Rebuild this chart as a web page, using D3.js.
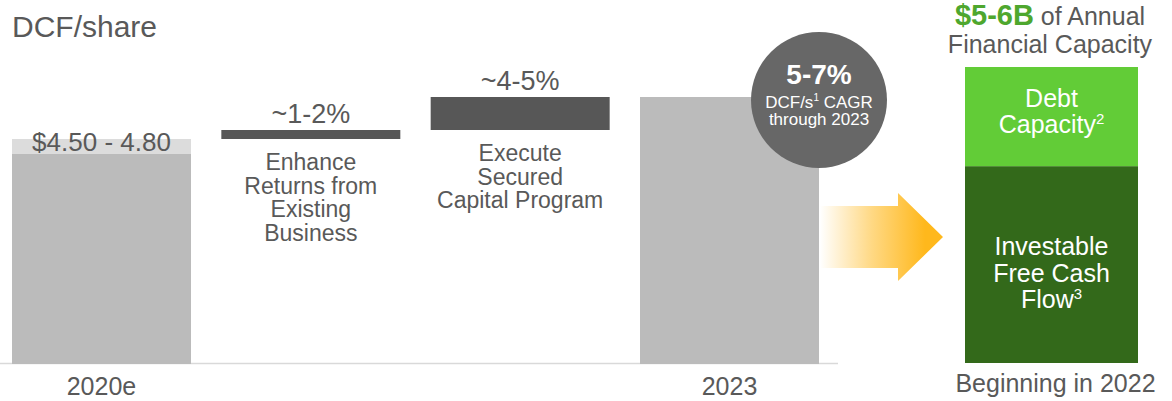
<!DOCTYPE html>
<html>
<head>
<meta charset="utf-8">
<script src="https://cdn.jsdelivr.net/npm/d3@7"></script>
<style>
  html, body { margin: 0; padding: 0; background: #ffffff; }
  svg { display: block; }
  text { font-family: "Liberation Sans", Arial, sans-serif; }
</style>
</head>
<body>
<div id="chart"></div>
<script>
// ---- Data ----------------------------------------------------------------
const categories   = ["2020e", "Enhance Returns", "Execute Capital", "2023"];
const startValues  = [0.3, 4.80, 4.98, 0.3];   // bar bottoms (0.3 = axis floor)
const endValues    = [4.50, 4.98, 5.64, 5.64];  // bar tops
const rangeHigh    = 4.80;                      // upper end of the 2020e estimate
const valueLabels  = ["$4.50 - 4.80", "~1-2%", "~4-5%", ""];
const stepLines    = [[], ["Enhance", "Returns from", "Existing", "Business"],
                      ["Execute", "Secured", "Capital Program"], []];
const axisLabels   = ["2020e", "", "", "2023"];

const capacityParts  = ["Investable Free Cash Flow", "Debt Capacity"];
const capacityShares = [0.665, 0.335];

// ---- Layout --------------------------------------------------------------
const W = 1172, H = 401;
const baseY = 363;
const grey = "#595959";

const svg = d3.select("#chart").append("svg")
  .attr("width", W).attr("height", H);

const x = d3.scaleBand().domain(categories).range([12, 819])
  .paddingInner(0.145).paddingOuter(0);
const y = d3.scaleLinear().domain([0.3, 6]).range([364, 79]);
const bw = x.bandwidth();

// Title
svg.append("text").attr("x", 12).attr("y", 37)
  .attr("font-size", 30).attr("fill", grey).text("DCF/share");

// Baseline
svg.append("line").attr("x1", 0).attr("x2", 838)
  .attr("y1", baseY + 0.5).attr("y2", baseY + 0.5)
  .attr("stroke", "#d9d9d9").attr("stroke-width", 1.5);

// Range band on top of the 2020e bar
svg.append("rect")
  .attr("x", x(categories[0])).attr("width", bw)
  .attr("y", y(rangeHigh)).attr("height", y(endValues[0]) - y(rangeHigh))
  .attr("fill", "#dcdcdc");

// Bars
const isStep = (d, i) => i > 0 && i < categories.length - 1;
svg.selectAll("rect.bar").data(categories).enter().append("rect")
  .attr("class", "bar")
  .attr("x", d => x(d)).attr("width", bw)
  .attr("y", (d, i) => y(endValues[i]))
  .attr("height", (d, i) => y(startValues[i]) - y(endValues[i]))
  .attr("fill", (d, i) => isStep(d, i) ? "#575757" : "#bbbbbb");

// Value labels
svg.selectAll("text.val").data(categories).enter().append("text")
  .attr("class", "val")
  .attr("x", d => x(d) + bw / 2)
  .attr("y", (d, i) => i === 0 ? y(endValues[0]) - 3 : y(endValues[i]) - 7)
  .attr("text-anchor", "middle")
  .attr("font-size", (d, i) => i === 0 ? 26 : 27)
  .attr("fill", grey)
  .text((d, i) => valueLabels[i]);

// Step descriptions under the step bars
categories.forEach((c, i) => {
  const lines = stepLines[i];
  if (!lines.length) return;
  const t = svg.append("text")
    .attr("text-anchor", "middle").attr("font-size", 23).attr("fill", grey);
  lines.forEach((ln, k) => {
    t.append("tspan").attr("x", x(c) + bw / 2)
      .attr("y", y(startValues[i]) + 31 + k * 23.6).text(ln);
  });
});

// Axis labels
svg.selectAll("text.axis").data(categories).enter().append("text")
  .attr("class", "axis")
  .attr("x", d => x(d) + bw / 2).attr("y", 395)
  .attr("text-anchor", "middle").attr("font-size", 25).attr("fill", grey)
  .text((d, i) => axisLabels[i]);

// CAGR badge at the top corner of the 2023 bar
const last = categories[categories.length - 1];
const cx = x(last) + bw, cy = y(endValues[3]) + 3;
svg.append("circle").attr("cx", cx).attr("cy", cy).attr("r", 68).attr("fill", "#676767");
svg.append("text").attr("x", cx).attr("y", cy - 16).attr("text-anchor", "middle")
  .attr("font-size", 28).attr("font-weight", "bold").attr("fill", "#fff").text("5-7%");
const b2 = svg.append("text").attr("x", cx).attr("y", cy + 8).attr("text-anchor", "middle")
  .attr("font-size", 17).attr("fill", "#fff");
b2.append("tspan").text("DCF/s");
b2.append("tspan").attr("font-size", 10).attr("dy", -7).text("1");
b2.append("tspan").attr("dy", 7).text(" CAGR");
svg.append("text").attr("x", cx).attr("y", cy + 25).attr("text-anchor", "middle")
  .attr("font-size", 17).attr("fill", "#fff").text("through 2023");

// Capacity stack
const stackLeft = 965, stackW = 173;
const ys = d3.scaleLinear().domain([0, 1]).range([baseY, 67]);
let acc = 0;
const capColors = ["#33691a", "#62cc37"];
const segs = capacityShares.map((s, i) => {
  const seg = { i, y0: acc, y1: acc + s };
  acc += s;
  return seg;
});
svg.selectAll("rect.cap").data(segs).enter().append("rect")
  .attr("class", "cap")
  .attr("x", stackLeft).attr("width", stackW)
  .attr("y", d => ys(d.y1)).attr("height", d => ys(d.y0) - ys(d.y1))
  .attr("fill", d => capColors[d.i]);

const scx = stackLeft + stackW / 2;
function multiLine(lines, sup, top, lh) {
  const t = svg.append("text").attr("text-anchor", "middle")
    .attr("font-size", 25).attr("fill", "#fff");
  lines.forEach((ln, k) => {
    const ts = t.append("tspan").attr("x", scx).attr("y", top + k * lh).text(ln);
    if (k === lines.length - 1) {
      t.append("tspan").attr("font-size", 15).attr("dy", -9).text(sup);
    }
  });
}
// Debt segment text
multiLine(["Debt", "Capacity"], "2", ys(segs[1].y1) + 40, 26);
// Free cash flow segment text
multiLine(["Investable", "Free Cash", "Flow"], "3", ys(segs[0].y1) + 89, 26.5);

// Header above the stack
const h1 = svg.append("text").attr("x", 1050).attr("y", 25).attr("text-anchor", "middle");
h1.append("tspan").attr("font-size", 29).attr("font-weight", "bold").attr("fill", "#4ea72e").text("$5-6B");
h1.append("tspan").attr("font-size", 25).attr("fill", grey).text(" of Annual");
svg.append("text").attr("x", 1050).attr("y", 53).attr("text-anchor", "middle")
  .attr("font-size", 25).attr("fill", grey).text("Financial Capacity");
svg.append("text").attr("x", scx + 4).attr("y", 392).attr("text-anchor", "middle")
  .attr("font-size", 25).attr("fill", grey).text("Beginning in 2022");

// Gradient arrow from the 2023 bar to the capacity stack
const a0 = x(last) + bw + 1, tip = stackLeft - 22, headBase = tip - 45, ay = 237;
const defs = svg.append("defs");
const g = defs.append("linearGradient").attr("id", "arrowGrad")
  .attr("gradientUnits", "userSpaceOnUse")
  .attr("x1", a0).attr("x2", tip - 18).attr("y1", 0).attr("y2", 0);
g.append("stop").attr("offset", 0).attr("stop-color", "#ffb81c").attr("stop-opacity", 0);
g.append("stop").attr("offset", 0.5).attr("stop-color", "#ffb81c").attr("stop-opacity", 0.55);
g.append("stop").attr("offset", 1).attr("stop-color", "#ffb81c").attr("stop-opacity", 1);
const p = d3.path();
p.moveTo(a0, ay - 31);
p.lineTo(headBase, ay - 31);
p.lineTo(headBase, ay - 44);
p.lineTo(tip, ay);
p.lineTo(headBase, ay + 44);
p.lineTo(headBase, ay + 31);
p.lineTo(a0, ay + 31);
p.closePath();
svg.append("path").attr("d", p.toString()).attr("fill", "url(#arrowGrad)");
</script>
</body>
</html>
